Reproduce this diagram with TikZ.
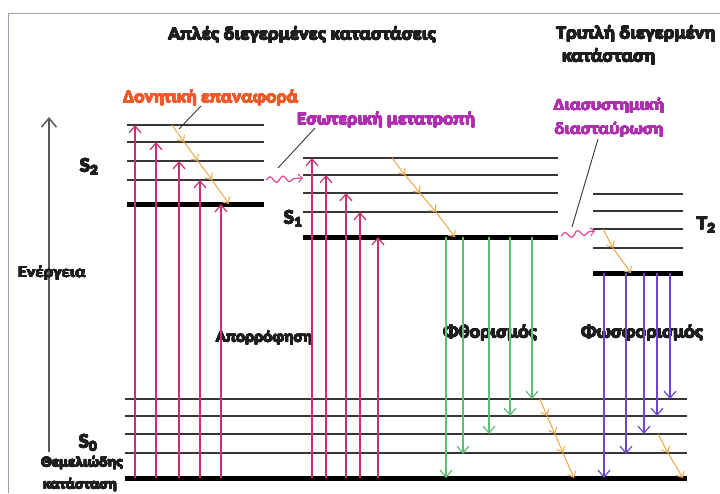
\documentclass[tikz,border=0pt]{standalone}
\usepackage{fontspec}
\setmainfont{Carlito}[BoldFont={Carlito Bold}]
\usepackage{contour}
\contournumber{16}
\contourlength{0.3pt}
\usetikzlibrary{arrows.meta,decorations.pathmorphing}

\definecolor{framec}{RGB}{150,160,175}
\definecolor{levelc}{RGB}{55,55,55}
\definecolor{axisc}{RGB}{90,90,90}
\definecolor{absorbc}{RGB}{205,45,115}
\definecolor{fluorc}{RGB}{95,190,115}
\definecolor{phosc}{RGB}{110,70,205}
\definecolor{relaxc}{RGB}{240,165,70}
\definecolor{vibtext}{RGB}{240,90,40}
\definecolor{convtext}{RGB}{175,45,175}
\definecolor{wavec}{RGB}{225,70,150}
\definecolor{inkc}{RGB}{30,30,30}

% bold face at a given size
\newcommand{\bsize}[1]{\bfseries\fontsize{#1}{#1}\selectfont}
% heavy, slightly widened lettering in a given colour
\newcommand{\heavy}[2]{\scalebox{1.1}[1]{\textcolor{#1}{\contour{#1}{#2}}}}

\begin{document}
\begin{tikzpicture}[x=1pt,y=-1pt,
  lvl/.style={draw=levelc,line width=1.8pt},
  base/.style={draw=black,line width=5pt},
  barb/.style={-{Straight Barb[length=7pt,width=12pt,line width=1.2pt]}},
  absorb/.style={draw=absorbc,line width=1.4pt,barb},
  fluor/.style={draw=fluorc,line width=1.4pt,barb},
  phos/.style={draw=phosc,line width=1.4pt,barb},
  relax/.style={draw=relaxc,line width=1pt,-{Straight Barb[length=5pt,width=9pt,line width=1pt]}},
  wave/.style={draw=wavec,line width=1.2pt,decorate,
    decoration={snake,amplitude=3pt,segment length=13pt,post length=5pt},
    -{Straight Barb[length=4pt,width=8pt,line width=1pt]}},
  pointer/.style={draw=levelc,line width=0.9pt},
  txt/.style={inner sep=0pt},
]
\useasboundingbox (0,0) rectangle (720,493);

% frame
\coordinate (fbl) at (8,493);
\coordinate (ftl) at (8,13);
\coordinate (ftr) at (720,13);
\draw[framec,line width=1pt] (fbl) -- (ftl) -- (ftr);

% energy axis
\coordinate (eb) at (49,452);
\coordinate (et) at (49,117);
\draw[axisc,line width=1.8pt,-{Straight Barb[length=9pt,width=15pt,line width=1.5pt]}] (eb) -- (et);
\node[txt,font=\bsize{16.5}] (energy) at (52,273) {\heavy{inkc}{Ενέργεια}};

% titles
\node[txt,font=\bsize{18.3}] (tsing) at (302,35) {\heavy{inkc}{Απλές διεγερμένες καταστάσεις}};
\node[txt,font=\bsize{18.3},anchor=west] (ttrip1) at (556,34) {\heavy{inkc}{Τριπλή διεγερμένη}};
\node[txt,font=\bsize{18.3},anchor=west] (ttrip2) at (562,57) {\heavy{inkc}{κατάσταση}};

% process labels
\node[txt,font=\bsize{17.5},anchor=west] (lvib) at (123,98) {\heavy{vibtext}{Δονητική επαναφορά}};
\node[txt,font=\bsize{17.5},anchor=west] (lic) at (297,120) {\heavy{convtext}{Εσωτερική μετατροπή}};
\node[txt,font=\bsize{17}] (lisc1) at (609,106) {\heavy{convtext}{Διασυστημική}};
\node[txt,font=\bsize{17}] (lisc2) at (609,130) {\heavy{convtext}{διασταύρωση}};
\node[txt,font=\bsize{15.5}] (labs) at (264,338) {\heavy{inkc}{Απορρόφηση}};
\node[txt,font=\bsize{18}] (lfl) at (490,333) {\heavy{inkc}{Φθορισμός}};
\node[txt,font=\bsize{18}] (lph) at (642,333) {\heavy{inkc}{Φωσφορισμός}};

% state labels
\node[txt,font=\bsize{20}] (s2) at (89,167) {\heavy{inkc}{S\textsubscript{2}}};
\node[txt,font=\bsize{20}] (s1) at (293,219) {\heavy{inkc}{S\textsubscript{1}}};
\node[txt,font=\bsize{20}] (s0) at (88,443) {\heavy{inkc}{S\textsubscript{0}}};
\node[txt,font=\bsize{20}] (t2) at (706,225) {\heavy{inkc}{T\textsubscript{2}}};
\node[txt,font=\bsize{14.5}] (g1) at (82,463) {\heavy{inkc}{Θεμελιώδης}};
\node[txt,font=\bsize{14.5}] (g2) at (80,485) {\heavy{inkc}{κατάσταση}};

% S2 levels
\foreach \y [count=\i] in {125,142,161,180}
  \draw[lvl] (127,\y) coordinate (s2l\i) -- (264,\y) coordinate (s2r\i);
\draw[base] (127,204) coordinate (s2l5) -- (264,204) coordinate (s2r5);

% S1 levels
\foreach \y [count=\i] in {158,175,193,212}
  \draw[lvl] (303,\y) coordinate (s1l\i) -- (558,\y) coordinate (s1r\i);
\draw[base] (303,237) coordinate (s1l5) -- (558,237) coordinate (s1r5);

% T2 levels
\foreach \y [count=\i] in {194,211,229,248}
  \draw[lvl] (593,\y) coordinate (t2l\i) -- (683,\y) coordinate (t2r\i);
\draw[base] (593,273) coordinate (t2l5) -- (683,273) coordinate (t2r5);

% S0 levels
\foreach \y [count=\i] in {399,416,434,453}
  \draw[lvl] (125,\y) coordinate (s0l\i) -- (687,\y) coordinate (s0r\i);
\draw[base] (125,478) coordinate (s0l5) -- (687,478) coordinate (s0r5);

% absorption into S2 and S1
\foreach \x/\y [count=\i] in {135/125,156/142,179/161,200/180,221/204,
                              312/158,326/175,346/193,360/212,378/237}{
  \coordinate (aa\i) at (\x,478);
  \coordinate (ab\i) at (\x,\y);
  \draw[absorb] (aa\i) -- (ab\i);
}

% fluorescence from S1
\foreach \x/\y [count=\i] in {446/478,463/454,489/434,510/416,532/399}{
  \coordinate (fa\i) at (\x,237);
  \coordinate (fb\i) at (\x,\y);
  \draw[fluor] (fa\i) -- (fb\i);
}

% phosphorescence from T2
\foreach \x/\y [count=\i] in {604/478,626/454,644/434,657/416,670/399}{
  \coordinate (pa\i) at (\x,273);
  \coordinate (pb\i) at (\x,\y);
  \draw[phos] (pa\i) -- (pb\i);
}

% vibrational relaxation cascades
\coordinate (v1a) at (172,125); \coordinate (v1b) at (184,142);
\coordinate (v1c) at (198,161); \coordinate (v1d) at (212,180);
\coordinate (v1e) at (229,204);
\draw[relax] (v1a) -- (v1b);
\draw[relax] (v1b) -- (v1c);
\draw[relax] (v1c) -- (v1d);
\draw[relax] (v1d) -- (v1e);

\coordinate (v2a) at (392,158); \coordinate (v2b) at (405,175);
\coordinate (v2c) at (420,193); \coordinate (v2d) at (436,212);
\coordinate (v2e) at (455,237);
\draw[relax] (v2a) -- (v2b);
\draw[relax] (v2b) -- (v2c);
\draw[relax] (v2c) -- (v2d);
\draw[relax] (v2d) -- (v2e);

\coordinate (v3a) at (603,229); \coordinate (v3b) at (613,248);
\coordinate (v3c) at (631,273);
\draw[relax] (v3a) -- (v3b);
\draw[relax] (v3b) -- (v3c);

\coordinate (v4a) at (540,399); \coordinate (v4b) at (547,416);
\coordinate (v4c) at (555,434); \coordinate (v4d) at (563,453);
\coordinate (v4e) at (574,478);
\draw[relax] (v4a) -- (v4b);
\draw[relax] (v4b) -- (v4c);
\draw[relax] (v4c) -- (v4d);
\draw[relax] (v4d) -- (v4e);

\coordinate (v5a) at (658,434); \coordinate (v5b) at (668,453);
\coordinate (v5c) at (683,478);
\draw[relax] (v5a) -- (v5b);
\draw[relax] (v5b) -- (v5c);

% internal conversion and intersystem crossing
\coordinate (icA) at (266,180);
\coordinate (icB) at (303,178);
\draw[wave] (icA) -- (icB);
\coordinate (iscA) at (561,236);
\coordinate (iscB) at (595,231);
\draw[wave] (iscA) -- (iscB);

% pointer lines from the labels
\coordinate (pvA) at (201,106); \coordinate (pvB) at (179,129);
\draw[pointer] (pvA) -- (pvB);
\coordinate (piA) at (315,128); \coordinate (piB) at (278,168);
\draw[pointer] (piA) -- (piB);
\coordinate (psA) at (598,139); \coordinate (psB) at (572,227);
\draw[pointer] (psA) -- (psB);
\end{tikzpicture}
\end{document}
